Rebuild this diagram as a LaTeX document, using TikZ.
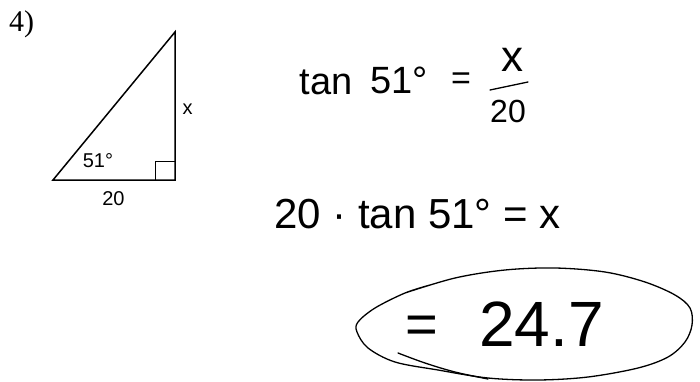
\documentclass[tikz,border=0pt]{standalone}
\usepackage{fontspec}
\setmainfont{Liberation Serif}
\newfontfamily\arialf{Liberation Sans}
\begin{document}
\begin{tikzpicture}[x=1pt,y=-1pt,
  tri/.style={line width=1.5pt, line join=miter},
  lbl/.style={font=\arialf\fontsize{20}{20}\selectfont, inner sep=0pt},
  hand/.style={font=\arialf\fontsize{38}{38}\selectfont, inner sep=0pt},
  handtwo/.style={font=\arialf\fontsize{42}{42}\selectfont, inner sep=0pt},
  handbig/.style={font=\arialf\fontsize{64}{64}\selectfont, inner sep=0pt},
  pen/.style={line width=1.3pt, line cap=round, line join=round}]
\useasboundingbox[fill=white] (0,0) rectangle (700,382);
% triangle
\coordinate (A) at (53,180);
\coordinate (B) at (175,180);
\coordinate (C) at (175,32);
\draw[tri] (A) -- (B) -- (C) -- cycle;
\draw[line width=1pt] (155,180) -- (155,161) -- (175,161);
\node[font=\fontsize{30}{30}\selectfont, inner sep=0pt, anchor=base west] (num) at (9,32) {4)};
\node[lbl, anchor=base] (ang) at (98,167) {51°};
\node[lbl, anchor=base] (xs) at (187.5,115) {x};
\node[lbl, anchor=base] (base) at (113.5,205) {20};
% line 1
\node[hand, anchor=base] (tan1) at (326,95) {tan};
\node[hand, anchor=base] (ang1) at (399,94) {51°};
\node[font=\arialf\fontsize{34}{34}\selectfont, inner sep=0pt, anchor=base] (eq1) at (461,90) {=};
\node[font=\arialf\fontsize{44}{44}\selectfont, inner sep=0pt, anchor=base] (fx) at (512,72) {x};
\coordinate (bl) at (490,90);
\coordinate (br) at (528,82);
\draw[pen] (bl) -- (br);
\node[font=\arialf\fontsize{32}{32}\selectfont, inner sep=0pt, anchor=base] (f20) at (508,123) {20};
% line 2
\node[handtwo, anchor=base west] (l2) at (274,228) {20 · tan 51° = x};
% line 3
\node[font=\arialf\fontsize{56}{56}\selectfont, inner sep=0pt, anchor=base] (eq3) at (422,343) {=};
\node[handbig, anchor=base west] (res) at (479,346) {24.7};
% hand-drawn ellipse
\draw[pen] plot[smooth, tension=0.55] coordinates {
  (405,293) (455,278) (505,270) (555,268) (605,272) (645,282) (675,295)
  (690,308) (692,325) (685,342) (668,357) (638,368) (588,377) (538,380)
  (488,378) (438,370) (395,362) (368,348) (357,332) (358,322) (375,308)
  (405,293) (430,285)};
\draw[pen] plot[smooth, tension=0.6] coordinates {
  (398,353) (425,363) (455,372) (488,379)};
\end{tikzpicture}
\end{document}
